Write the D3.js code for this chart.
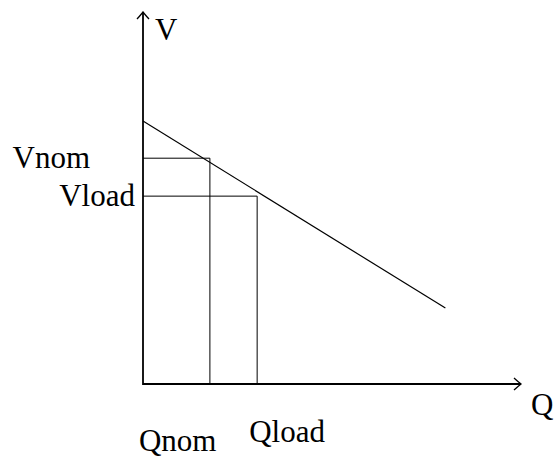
<!DOCTYPE html>
<html>
<head>
<meta charset="utf-8">
<script src="https://cdn.jsdelivr.net/npm/d3@7"></script>
<style>
  body { margin: 0; background: #fff; }
  text { font-family: "Liberation Serif", "DejaVu Serif", serif; font-size: 31px; fill: #000; }
</style>
</head>
<body>
<div id="grafico"></div>
<script>
const width  = 554;
const height = 462;

// axis extents (data units)
const qDomain = [0, 10];
const vDomain = [0, 10];

// droop line
const droopQ = [0, 8];
const droopV = [7.07, 2.04];

// operating points
const pointNames = ["nom", "load"];
const pointQ = [1.77, 3.02];
const pointV = [6.07, 5.05];

const vLabels = ["Vnom", "Vload"];
const qLabels = ["Qnom", "Qload"];
const axisLabels = ["Q", "V"];

const svg = d3.select("#grafico")
              .append("svg")
              .attr("width", width)
              .attr("height", height);

const xScale = d3.scaleLinear().domain(qDomain).range([143, 521]);
const yScale = d3.scaleLinear().domain(vDomain).range([384, 12]);

// arrow head
svg.append("defs").append("marker")
   .attr("id", "arrow")
   .attr("viewBox", "-9 -7 11 14")
   .attr("refX", 0).attr("refY", 0)
   .attr("markerWidth", 11).attr("markerHeight", 14)
   .attr("markerUnits", "userSpaceOnUse")
   .attr("orient", "auto")
   .append("path")
   .attr("d", "M-7,-6 Q-2,-1.5 0,0 Q-2,1.5 -7,6")
   .attr("fill", "none")
   .attr("stroke", "#000")
   .attr("stroke-width", 1.3);

// axes
svg.append("line")
   .attr("x1", xScale(0)).attr("y1", yScale(0))
   .attr("x2", xScale(qDomain[1])).attr("y2", yScale(0))
   .attr("stroke", "#000").attr("stroke-width", 1.8)
   .attr("marker-end", "url(#arrow)");

svg.append("line")
   .attr("x1", xScale(0)).attr("y1", yScale(0) + 1)
   .attr("x2", xScale(0)).attr("y2", yScale(vDomain[1]))
   .attr("stroke", "#000").attr("stroke-width", 1.8)
   .attr("marker-end", "url(#arrow)");

// droop line
svg.append("line")
   .attr("x1", xScale(droopQ[0])).attr("y1", yScale(droopV[0]))
   .attr("x2", xScale(droopQ[1])).attr("y2", yScale(droopV[1]))
   .attr("stroke", "#000").attr("stroke-width", 1.2);

// operating rectangles
const pts = pointNames.map((n, i) => ({ name: n, q: pointQ[i], v: pointV[i] }));

svg.selectAll(".hline")
   .data(pts)
   .join("line")
   .attr("class", "hline")
   .attr("x1", xScale(0)).attr("x2", d => xScale(d.q))
   .attr("y1", d => yScale(d.v)).attr("y2", d => yScale(d.v))
   .attr("stroke", "#000").attr("stroke-width", 1);

svg.selectAll(".vline")
   .data(pts)
   .join("line")
   .attr("class", "vline")
   .attr("x1", d => xScale(d.q)).attr("x2", d => xScale(d.q))
   .attr("y1", d => yScale(d.v)).attr("y2", yScale(0))
   .attr("stroke", "#000").attr("stroke-width", 1);

// V labels on the left
const vLabelDx = [-53, -8];
svg.selectAll(".vlabel")
   .data(pts)
   .join("text")
   .attr("class", "vlabel")
   .attr("text-anchor", "end")
   .attr("x", (d, i) => xScale(0) + vLabelDx[i])
   .attr("y", d => yScale(d.v) + 10)
   .text((d, i) => vLabels[i]);

// Q labels below
const qLabelDx = [-71, -8];
const qLabelY = [451, 442];
svg.selectAll(".qlabel")
   .data(pts)
   .join("text")
   .attr("class", "qlabel")
   .attr("x", (d, i) => xScale(d.q) + qLabelDx[i])
   .attr("y", (d, i) => qLabelY[i])
   .text((d, i) => qLabels[i]);

// axis names
svg.append("text")
   .attr("x", xScale(qDomain[1]) + 10)
   .attr("y", yScale(0) + 31)
   .text(axisLabels[0]);

svg.append("text")
   .attr("x", xScale(0) + 12)
   .attr("y", yScale(vDomain[1]) + 28)
   .text(axisLabels[1]);
</script>
</body>
</html>
